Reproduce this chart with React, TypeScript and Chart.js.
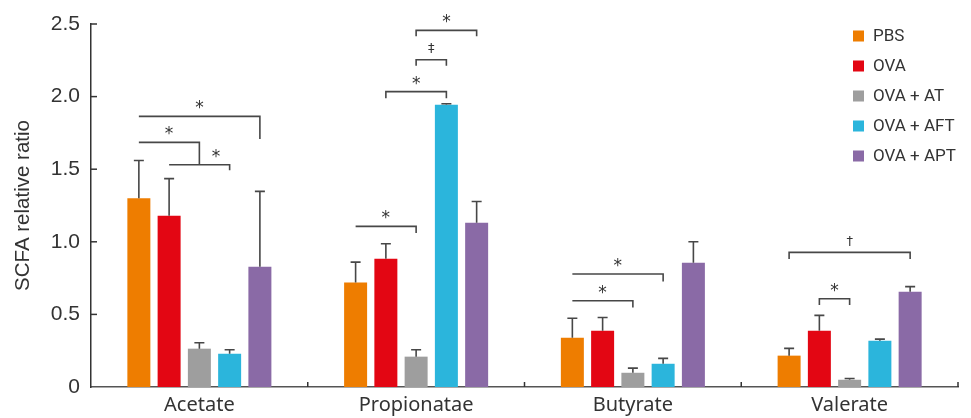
import React, { useEffect, useRef } from "react";
import { Chart, registerables } from "chart.js";

Chart.register(...registerables);

// ---------- data ----------
const categories = ["Acetate", "Propionatae", "Butyrate", "Valerate"];
const groupNames = ["PBS", "OVA", "OVA + AT", "OVA + AFT", "OVA + APT"];
const groupColors = ["#EE7D00", "#E30613", "#9E9E9E", "#2BB5DC", "#8A6AA6"];

const pbsMean = [1.3, 0.72, 0.34, 0.216];
const pbsSd = [0.26, 0.14, 0.133, 0.05];
const ovaMean = [1.18, 0.884, 0.388, 0.388];
const ovaSd = [0.255, 0.103, 0.091, 0.105];
const atMean = [0.264, 0.209, 0.098, 0.05];
const atSd = [0.041, 0.048, 0.032, 0.009];
const aftMean = [0.229, 1.944, 0.16, 0.319];
const aftSd = [0.028, 0.007, 0.037, 0.011];
const aptMean = [0.828, 1.132, 0.856, 0.656];
const aptSd = [0.519, 0.146, 0.144, 0.035];

const seriesMeans = [pbsMean, ovaMean, atMean, aftMean, aptMean];
const seriesSds = [pbsSd, ovaSd, atSd, aftSd, aptSd];

const yTicks = [0, 0.5, 1.0, 1.5, 2.0, 2.5];
const yTitle = "SCFA relative ratio";

// significance brackets: category, from group, to group, bracket level,
// end levels of the drops, label, optional label position (in group units)
type Bracket = {
  cat: number;
  from: number;
  to: number;
  level: number;
  endFrom: number;
  endTo: number;
  label: string;
  labelAt?: number;
};
const brackets: Bracket[] = [
  { cat: 0, from: 0, to: 4, level: 1.864, endFrom: 1.864, endTo: 1.708, label: "*" },
  { cat: 0, from: 0, to: 2, level: 1.685, endFrom: 1.685, endTo: 1.531, label: "*" },
  { cat: 0, from: 1, to: 3, level: 1.531, endFrom: 1.531, endTo: 1.492, label: "*", labelAt: 2.55 },
  { cat: 1, from: 2, to: 4, level: 2.456, endFrom: 2.415, endTo: 2.415, label: "*" },
  { cat: 1, from: 2, to: 3, level: 2.254, endFrom: 2.213, endTo: 2.213, label: "‡" },
  { cat: 1, from: 1, to: 3, level: 2.034, endFrom: 1.988, endTo: 1.988, label: "*" },
  { cat: 1, from: 0, to: 2, level: 1.106, endFrom: 1.106, endTo: 1.061, label: "*" },
  { cat: 2, from: 0, to: 3, level: 0.778, endFrom: 0.778, endTo: 0.727, label: "*" },
  { cat: 2, from: 0, to: 2, level: 0.594, endFrom: 0.594, endTo: 0.548, label: "*" },
  { cat: 3, from: 0, to: 4, level: 0.927, endFrom: 0.882, endTo: 0.882, label: "†" },
  { cat: 3, from: 1, to: 2, level: 0.608, endFrom: 0.565, endTo: 0.565, label: "*" },
];

const INK = "#333333";
const LINE = "#474747";

const overlayPlugin = {
  id: "overlay",
  afterDatasetsDraw(chart: any) {
    const ctx: CanvasRenderingContext2D = chart.ctx;
    const ys = chart.scales.y;
    const xs = chart.scales.x;
    const area = chart.chartArea;
    ctx.save();

    // error bars (upper only)
    ctx.strokeStyle = LINE;
    ctx.lineWidth = 1.6;
    seriesMeans.forEach((means, d) => {
      const meta = chart.getDatasetMeta(d);
      meta.data.forEach((bar: any, i: number) => {
        const base = ys.getPixelForValue(means[i]);
        const top = ys.getPixelForValue(means[i] + seriesSds[d][i]);
        ctx.beginPath();
        ctx.moveTo(bar.x, base);
        ctx.lineTo(bar.x, top);
        ctx.moveTo(bar.x - 5, top);
        ctx.lineTo(bar.x + 5, top);
        ctx.stroke();
      });
    });

    // significance brackets
    const barX = (cat: number, k: number) => {
      const lo = Math.floor(k);
      const hi = Math.min(lo + 1, seriesMeans.length - 1);
      const a = chart.getDatasetMeta(lo).data[cat].x;
      const b = chart.getDatasetMeta(hi).data[cat].x;
      return a + (b - a) * (k - lo);
    };
    ctx.lineWidth = 1.6;
    ctx.strokeStyle = LINE;
    brackets.forEach((br) => {
      const xa = barX(br.cat, br.from);
      const xb = barX(br.cat, br.to);
      const yl = ys.getPixelForValue(br.level);
      ctx.beginPath();
      ctx.moveTo(xa, ys.getPixelForValue(br.endFrom));
      ctx.lineTo(xa, yl);
      ctx.lineTo(xb, yl);
      ctx.lineTo(xb, ys.getPixelForValue(br.endTo));
      ctx.stroke();
      const lx = br.labelAt !== undefined ? barX(br.cat, br.labelAt) : (xa + xb) / 2;
      ctx.fillStyle = INK;
      ctx.textAlign = "center";
      if (br.label === "*") {
        ctx.font = "17px 'DejaVu Sans'";
        ctx.textBaseline = "alphabetic";
        ctx.fillText(br.label, lx, yl - 3);
      } else {
        ctx.font = "13px 'DejaVu Sans'";
        ctx.textBaseline = "middle";
        ctx.fillText(br.label, lx, yl - 11);
      }
    });

    // inward axis ticks
    ctx.strokeStyle = INK;
    ctx.lineWidth = 1.5;
    yTicks.forEach((v) => {
      if (v === 0) return;
      const py = ys.getPixelForValue(v);
      ctx.beginPath();
      ctx.moveTo(area.left, py);
      ctx.lineTo(area.left + 6, py);
      ctx.stroke();
    });
    const cw = (area.right - area.left) / categories.length;
    categories.forEach((_, i) => {
      const px = xs.getPixelForValue(i) + cw / 2;
      ctx.beginPath();
      ctx.moveTo(px, area.bottom);
      ctx.lineTo(px, area.bottom - 5);
      ctx.stroke();
    });

    // legend
    ctx.font = "17px Roboto";
    ctx.textAlign = "left";
    ctx.textBaseline = "middle";
    groupNames.forEach((name, i) => {
      const cy = 36 + i * 30;
      ctx.fillStyle = groupColors[i];
      ctx.fillRect(853, cy - 5.5, 11, 11);
      ctx.fillStyle = INK;
      ctx.fillText(name, 873, cy + 1);
    });

    ctx.restore();
  },
};

export default function App() {
  const canvasRef = useRef<HTMLCanvasElement | null>(null);

  useEffect(() => {
    if (!canvasRef.current) return;
    const chart = new Chart(canvasRef.current, {
      type: "bar",
      data: {
        labels: categories,
        datasets: groupNames.map((name, i) => ({
          label: name,
          data: seriesMeans[i],
          backgroundColor: groupColors[i],
          borderWidth: 0,
          categoryPercentage: 0.698,
          barPercentage: 0.76,
        })),
      },
      options: {
        animation: false,
        responsive: false,
        maintainAspectRatio: false,
        layout: { padding: { top: 24, right: 13, left: 0, bottom: 0 } },
        plugins: {
          legend: { display: false },
          tooltip: { enabled: false },
        },
        scales: {
          x: {
            grid: { display: false, drawTicks: false },
            border: { display: true, color: "#555555", width: 1.6 },
            ticks: {
              color: INK,
              font: { family: "'Noto Sans'", size: 20 },
              padding: 6,
              maxRotation: 0,
            },
            afterFit: (s: any) => {
              s.height = 31;
            },
          },
          y: {
            min: 0,
            max: 2.5,
            grid: { display: false, drawTicks: false },
            border: { display: true, color: INK, width: 1.5 },
            ticks: {
              stepSize: 0.5,
              color: INK,
              font: { family: "'Liberation Sans'", size: 21 },
              padding: 11,
              callback: (v: any) => (Number(v) === 0 ? "0" : Number(v).toFixed(1)),
            },
            title: {
              display: true,
              text: yTitle,
              color: INK,
              font: { family: "'Liberation Sans'", size: 20.5 },
              padding: { top: 11, bottom: 0 },
            },
            afterFit: (s: any) => {
              s.width = 91;
            },
          },
        },
      },
      plugins: [overlayPlugin],
    });
    return () => chart.destroy();
  }, []);

  return (
    <div style={{ position: "fixed", left: 0, top: 0, width: 971, height: 418, background: "#fff" }}>
      <canvas ref={canvasRef} width={971} height={418} style={{ display: "block" }} />
    </div>
  );
}
